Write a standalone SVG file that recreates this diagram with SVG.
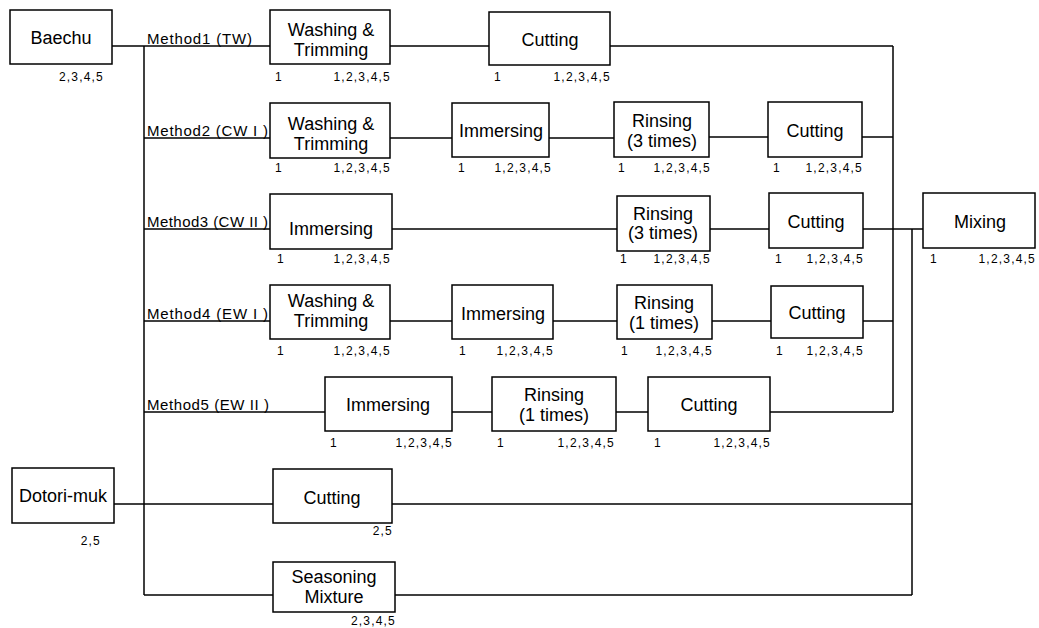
<svg xmlns="http://www.w3.org/2000/svg" width="1039" height="628" viewBox="0 0 1039 628">
<style>
rect.b{fill:#fff;stroke:#000;stroke-width:1.5}
text{font-family:"Liberation Sans",Arial,sans-serif;fill:#000}
.t{font-size:18px;text-anchor:middle}
.n{font-size:12px;letter-spacing:1.2px}
.e{text-anchor:end}
.m{font-size:15px}
#connectors line{stroke:#000;stroke-width:1.5}
</style>
<rect width="1039" height="628" fill="#fff"/>
<g id="connectors">
<line x1="112" y1="46" x2="270" y2="46"/>
<line x1="144" y1="46" x2="144" y2="595"/>
<line x1="390" y1="46" x2="489" y2="46"/>
<line x1="610" y1="46" x2="893" y2="46"/>
<line x1="893" y1="46" x2="893" y2="412"/>
<line x1="144" y1="138" x2="270" y2="138"/>
<line x1="390" y1="138" x2="452" y2="138"/>
<line x1="549" y1="138" x2="614" y2="138"/>
<line x1="709" y1="137" x2="768" y2="137"/>
<line x1="862" y1="137" x2="893" y2="137"/>
<line x1="144" y1="229" x2="270" y2="229"/>
<line x1="392" y1="229" x2="617" y2="229"/>
<line x1="710" y1="229" x2="769" y2="229"/>
<line x1="863" y1="229" x2="923" y2="229"/>
<line x1="912" y1="229" x2="912" y2="595"/>
<line x1="144" y1="321" x2="270" y2="321"/>
<line x1="390" y1="321" x2="452" y2="321"/>
<line x1="553" y1="321" x2="617" y2="321"/>
<line x1="712" y1="321" x2="771" y2="321"/>
<line x1="863" y1="321" x2="893" y2="321"/>
<line x1="144" y1="412" x2="325" y2="412"/>
<line x1="452" y1="412" x2="492" y2="412"/>
<line x1="616" y1="412" x2="648" y2="412"/>
<line x1="770" y1="412" x2="893" y2="412"/>
<line x1="114" y1="504" x2="273" y2="504"/>
<line x1="392" y1="504" x2="912" y2="504"/>
<line x1="144" y1="595" x2="273" y2="595"/>
<line x1="395" y1="595" x2="912" y2="595"/>
</g>
<g id="method-labels">
<text class="m" x="147" y="44" textLength="105" lengthAdjust="spacing">Method1 (TW)</text>
<text class="m" x="147" y="136" textLength="121" lengthAdjust="spacing">Method2 (CW I )</text>
<text class="m" x="147" y="227" textLength="121" lengthAdjust="spacing">Method3 (CW II )</text>
<text class="m" x="147" y="319" textLength="121" lengthAdjust="spacing">Method4 (EW I )</text>
<text class="m" x="147" y="410" textLength="122" lengthAdjust="spacing">Method5 (EW II )</text>
</g>
<g id="baechu">
<rect class="b" x="10" y="10" width="102" height="54"/>
<text class="t" x="61" y="44">Baechu</text>
<text class="n e" x="104" y="81">2,3,4,5</text>
</g>
<g id="wt1">
<rect class="b" x="270" y="10" width="120" height="54"/>
<text class="t" x="331" y="36">Washing &amp;</text>
<text class="t" x="331" y="56">Trimming</text>
<text class="n" x="275" y="81">1</text>
<text class="n e" x="391" y="81">1,2,3,4,5</text>
</g>
<g id="cut1">
<rect class="b" x="489" y="12" width="121" height="53"/>
<text class="t" x="550" y="46">Cutting</text>
<text class="n" x="494" y="81">1</text>
<text class="n e" x="611" y="81">1,2,3,4,5</text>
</g>
<g id="wt2">
<rect class="b" x="270" y="103" width="120" height="55"/>
<text class="t" x="331" y="130">Washing &amp;</text>
<text class="t" x="331" y="150">Trimming</text>
<text class="n" x="275" y="172">1</text>
<text class="n e" x="391" y="172">1,2,3,4,5</text>
</g>
<g id="imm2">
<rect class="b" x="452" y="103" width="97" height="54"/>
<text class="t" x="501" y="137">Immersing</text>
<text class="n" x="458" y="172">1</text>
<text class="n e" x="552" y="172">1,2,3,4,5</text>
</g>
<g id="rins2">
<rect class="b" x="614" y="102" width="95" height="55"/>
<text class="t" x="662" y="127">Rinsing</text>
<text class="t" x="662" y="147">(3 times)</text>
<text class="n" x="618" y="172">1</text>
<text class="n e" x="711" y="172">1,2,3,4,5</text>
</g>
<g id="cut2">
<rect class="b" x="768" y="102" width="94" height="55"/>
<text class="t" x="815" y="137">Cutting</text>
<text class="n" x="773" y="172">1</text>
<text class="n e" x="863" y="172">1,2,3,4,5</text>
</g>
<g id="imm3">
<rect class="b" x="270" y="194" width="122" height="55"/>
<text class="t" x="331" y="235">Immersing</text>
<text class="n" x="277" y="263">1</text>
<text class="n e" x="391" y="263">1,2,3,4,5</text>
</g>
<g id="rins3">
<rect class="b" x="617" y="196" width="93" height="55"/>
<text class="t" x="663" y="220">Rinsing</text>
<text class="t" x="663" y="239">(3 times)</text>
<text class="n" x="620" y="263">1</text>
<text class="n e" x="711" y="263">1,2,3,4,5</text>
</g>
<g id="cut3">
<rect class="b" x="769" y="193" width="94" height="55"/>
<text class="t" x="816" y="228">Cutting</text>
<text class="n" x="775" y="263">1</text>
<text class="n e" x="864" y="263">1,2,3,4,5</text>
</g>
<g id="mixing">
<rect class="b" x="923" y="193" width="112" height="55"/>
<text class="t" x="980" y="228">Mixing</text>
<text class="n" x="930" y="263">1</text>
<text class="n e" x="1036" y="263">1,2,3,4,5</text>
</g>
<g id="wt4">
<rect class="b" x="270" y="285" width="120" height="54"/>
<text class="t" x="331" y="307">Washing &amp;</text>
<text class="t" x="331" y="327">Trimming</text>
<text class="n" x="277" y="355">1</text>
<text class="n e" x="391" y="355">1,2,3,4,5</text>
</g>
<g id="imm4">
<rect class="b" x="452" y="285" width="101" height="54"/>
<text class="t" x="503" y="320">Immersing</text>
<text class="n" x="459" y="355">1</text>
<text class="n e" x="554" y="355">1,2,3,4,5</text>
</g>
<g id="rins4">
<rect class="b" x="617" y="285" width="95" height="54"/>
<text class="t" x="664" y="309">Rinsing</text>
<text class="t" x="664" y="329">(1 times)</text>
<text class="n" x="621" y="355">1</text>
<text class="n e" x="713" y="355">1,2,3,4,5</text>
</g>
<g id="cut4">
<rect class="b" x="771" y="286" width="92" height="52"/>
<text class="t" x="817" y="319">Cutting</text>
<text class="n" x="776" y="355">1</text>
<text class="n e" x="864" y="355">1,2,3,4,5</text>
</g>
<g id="imm5">
<rect class="b" x="325" y="377" width="127" height="54"/>
<text class="t" x="388" y="411">Immersing</text>
<text class="n" x="330" y="447">1</text>
<text class="n e" x="453" y="447">1,2,3,4,5</text>
</g>
<g id="rins5">
<rect class="b" x="492" y="377" width="124" height="54"/>
<text class="t" x="554" y="401">Rinsing</text>
<text class="t" x="554" y="421">(1 times)</text>
<text class="n" x="497" y="447">1</text>
<text class="n e" x="615" y="447">1,2,3,4,5</text>
</g>
<g id="cut5">
<rect class="b" x="648" y="377" width="122" height="54"/>
<text class="t" x="709" y="411">Cutting</text>
<text class="n" x="654" y="447">1</text>
<text class="n e" x="771" y="447">1,2,3,4,5</text>
</g>
<g id="dotori">
<rect class="b" x="12" y="468" width="102" height="55"/>
<text class="t" x="63" y="502">Dotori-muk</text>
<text class="n e" x="101" y="545">2,5</text>
</g>
<g id="cutd">
<rect class="b" x="273" y="469" width="119" height="54"/>
<text class="t" x="332" y="504">Cutting</text>
<text class="n e" x="393" y="535">2,5</text>
</g>
<g id="seasoning">
<rect class="b" x="273" y="562" width="122" height="50"/>
<text class="t" x="334" y="583">Seasoning</text>
<text class="t" x="334" y="603">Mixture</text>
<text class="n e" x="396" y="625">2,3,4,5</text>
</g>
</svg>
